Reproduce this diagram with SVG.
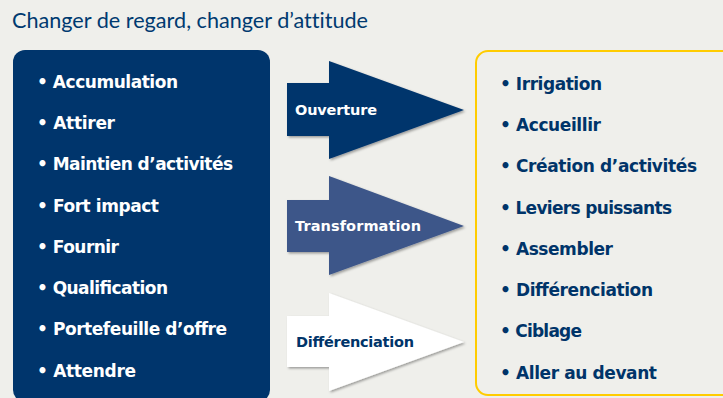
<svg xmlns="http://www.w3.org/2000/svg" width="723" height="398" viewBox="0 0 723 398">
<defs>
<style>
.item{font-family:"DejaVu Sans","Liberation Sans",sans-serif;font-weight:bold;font-size:17px}
.w{fill:#ffffff}
.n{fill:#003469}
.lab{font-family:"DejaVu Sans","Liberation Sans",sans-serif;font-weight:bold;font-size:14.5px}
.title{font-family:Lato,"Liberation Sans",sans-serif;font-size:20.5px;fill:#003a70;font-variant-ligatures:none}
</style>
<filter id="sh" x="-10%" y="-10%" width="130%" height="130%">
<feDropShadow dx="1.5" dy="1.5" stdDeviation="1" flood-color="#000" flood-opacity="0.35"/>
</filter>
</defs>
<rect width="723" height="398" fill="#efefeb"/>
<text class="title" x="12" y="28" textLength="356" lengthAdjust="spacingAndGlyphs">Changer de regard, changer d’attitude</text>
<g id="left">
<rect x="13" y="50" width="257" height="352" rx="12" fill="#00356c"/>
<text class="item w" x="37" y="88" textLength="141">• Accumulation</text>
<text class="item w" x="37" y="129" textLength="78">• Attirer</text>
<text class="item w" x="37" y="170" textLength="196">• Maintien d’activités</text>
<text class="item w" x="37" y="212" textLength="122">• Fort impact</text>
<text class="item w" x="37" y="253" textLength="82">• Fournir</text>
<text class="item w" x="37" y="294" textLength="131">• Qualification</text>
<text class="item w" x="37" y="335" textLength="190">• Portefeuille d’offre</text>
<text class="item w" x="37" y="377" textLength="99">• Attendre</text>
</g>
<g id="right">
<rect x="476" y="51" width="260" height="344" rx="12" fill="#efefeb" stroke="#ffcc00" stroke-width="2"/>
<text class="item n" x="500" y="90" textLength="102">• Irrigation</text>
<text class="item n" x="500" y="131" textLength="101">• Accueillir</text>
<text class="item n" x="500" y="172" textLength="197">• Création d’activités</text>
<text class="item n" x="500" y="214" textLength="172">• Leviers puissants</text>
<text class="item n" x="500" y="255" textLength="113">• Assembler</text>
<text class="item n" x="500" y="296" textLength="153">• Différenciation</text>
<text class="item n" x="500" y="337" textLength="82">• Ciblage</text>
<text class="item n" x="500" y="379" textLength="157">• Aller au devant</text>
</g>
<g id="connectors">
<g id="arrow-ouverture">
<polygon points="287,83 329,83 329,61 464,110 329,159 329,136 287,136" fill="#00356c" filter="url(#sh)"/>
<text class="lab w" x="295" y="115" textLength="82">Ouverture</text>
</g>
<g id="arrow-transformation">
<polygon points="287,200 329,200 329,176 464,226 329,275 329,252 287,252" fill="#3d5689" filter="url(#sh)"/>
<text class="lab w" x="295" y="231" textLength="126">Transformation</text>
</g>
<g id="arrow-differenciation">
<polygon points="287,316 329,316 329,293 464,342 329,391 329,367 287,367" fill="#ffffff" filter="url(#sh)"/>
<text class="lab n" x="296" y="347" textLength="118">Différenciation</text>
</g>
</g>
</svg>
